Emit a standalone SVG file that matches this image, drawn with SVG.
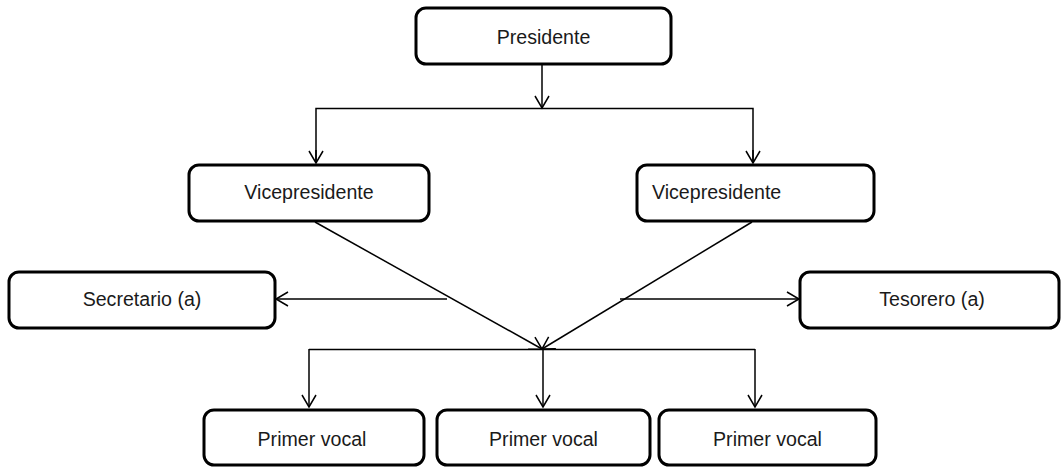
<svg xmlns="http://www.w3.org/2000/svg" width="1061" height="468" viewBox="0 0 1061 468">
<style>
.box{fill:#fff;stroke:#000;stroke-width:3}
.lbl{font-family:"Liberation Sans",Arial,sans-serif;font-size:19.6px;fill:#1a1a1a}
.c{text-anchor:middle}
.ln{fill:none;stroke:#000;stroke-width:1.5}
</style>
<defs>
<marker id="ah" viewBox="0 0 12 14" refX="12" refY="7" markerWidth="12" markerHeight="14" markerUnits="userSpaceOnUse" orient="auto" overflow="visible">
<path d="M0,0 L12,7 L0,14" fill="none" stroke="#000" stroke-width="1.5"/>
</marker>
</defs>
<rect width="1061" height="468" fill="#fff"/>
<g id="connectors">
<line class="ln" x1="542" y1="64" x2="542" y2="108" marker-end="url(#ah)"/>
<polyline class="ln" points="316,163 316,108.5 753,108.5 753,163"/>
<line class="ln" x1="316" y1="150" x2="316" y2="163" marker-end="url(#ah)"/>
<line class="ln" x1="753" y1="150" x2="753" y2="163" marker-end="url(#ah)"/>
<line class="ln" x1="315" y1="222" x2="542" y2="349" marker-end="url(#ah)"/>
<line class="ln" x1="752" y1="222" x2="542" y2="349" marker-end="url(#ah)"/>
<line class="ln" x1="447" y1="299" x2="276" y2="299" marker-end="url(#ah)"/>
<line class="ln" x1="620" y1="299" x2="799" y2="299" marker-end="url(#ah)"/>
<line class="ln" x1="309" y1="349.5" x2="755" y2="349.5"/>
<line class="ln" x1="309" y1="349" x2="309" y2="407" marker-end="url(#ah)"/>
<line class="ln" x1="543" y1="349" x2="543" y2="407" marker-end="url(#ah)"/>
<line class="ln" x1="755" y1="349" x2="755" y2="407" marker-end="url(#ah)"/>
</g>
<g id="presidente">
<rect class="box" x="416" y="8" width="255" height="56" rx="10"/>
<text class="lbl c" x="543.5" y="44">Presidente</text>
</g>
<g id="vice1">
<rect class="box" x="189" y="165" width="240" height="56" rx="10"/>
<text class="lbl c" x="309" y="199">Vicepresidente</text>
</g>
<g id="vice2">
<rect class="box" x="637" y="165" width="237" height="56" rx="10"/>
<text class="lbl" x="652" y="199">Vicepresidente</text>
</g>
<g id="secretario">
<rect class="box" x="9" y="272" width="266" height="56" rx="10"/>
<text class="lbl c" x="142" y="306">Secretario (a)</text>
</g>
<g id="tesorero">
<rect class="box" x="800" y="272" width="259" height="56" rx="10"/>
<text class="lbl c" x="932" y="306">Tesorero (a)</text>
</g>
<g id="vocal1">
<rect class="box" x="204" y="410" width="220" height="55" rx="10"/>
<text class="lbl c" x="312" y="446">Primer vocal</text>
</g>
<g id="vocal2">
<rect class="box" x="437" y="410" width="213" height="55" rx="10"/>
<text class="lbl c" x="543.5" y="446">Primer vocal</text>
</g>
<g id="vocal3">
<rect class="box" x="659" y="410" width="217" height="55" rx="10"/>
<text class="lbl c" x="767.5" y="446">Primer vocal</text>
</g>
</svg>
